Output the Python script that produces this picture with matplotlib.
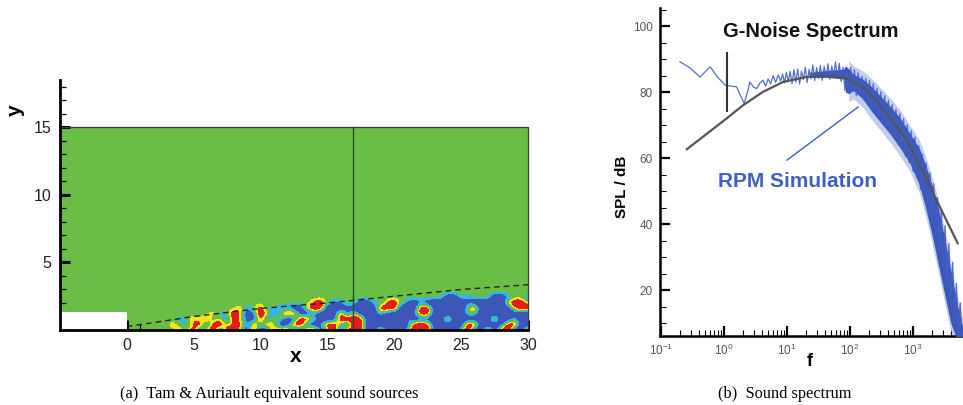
import numpy as np
import matplotlib.pyplot as plt
from matplotlib.patches import Rectangle
from matplotlib.colors import ListedColormap, BoundaryNorm
from matplotlib.ticker import MultipleLocator, LogLocator, NullFormatter

plt.rcParams['font.family'] = ['Liberation Sans', 'DejaVu Sans']

# ---------------- panel (a): equivalent sound sources ----------------
x_ticks = [0, 5, 10, 15, 20, 25, 30]
y_ticks = [5, 10, 15]
domain_x = [-5, 30]
domain_y = [0, 15]
nozzle_x = [-5, 0]
nozzle_h = 1.3
probe_x = 16.9
shear_x = [0, 5, 10, 15, 17, 20, 25, 30]
shear_y = [0.25, 1.0, 1.6, 2.0, 2.2, 2.5, 3.0, 3.35]

# source field on a coarse grid (x = 2..30 step 0.5, y = 0..3.6 step 0.4)
# '.' quiet, 'c' weak negative, 'b' strong negative, 'y' weak positive, 'r' strong positive
field_rows = [  # bottom row first
    "....y.rbyr" "brr.brbbry" "rbbrrb.rbr" "yrbbrbbb.r" "rrbbbb.rbb" "rbrrbbr",
    "...y.cyrbr" "r.yrbrcr.b" "brrbbcrr.b" "rrbbbbbbbr" "rrbbbbbrrb" "bbbrrbb",
    "....c.y.rc" "ybr.cbrby." "bbrr.bbbrr" "rrbbbbbb.b" "bbbbrbbbbb" "brbb.bb",
    ".........y" "c.rybcryb." "rrbbcbbbrb" "ybbb.bbbbc" "rrbbbbb..b" "bbbbbbb",
    ".........." "...yc.rc.c" "cbbyrrbbbc" "bbbbrrrbbb" "rrbbbbb.rb" "bbbbyrr",
    ".........." ".........." "....yr.cc." ".bb.cyr.cb" "cbbbbbbcbb" "bbbyrr.",
    ".........." ".........." ".........." ".........." "....bb.c.." ".bbc..c",
    ".........." ".........." ".........." ".........." ".........." ".......",
    ".........." ".........." ".........." ".........." ".........." ".......",
    ".........." ".........." ".........." ".........." ".........." ".......",
]
field_x0, field_dx = 2.0, 0.5
field_y0, field_dy = 0.0, 0.4
code = {'.': 0, 'c': -1, 'b': -2, 'y': 1, 'r': 2}

# ---------------- panel (b): sound spectrum ----------------
spl_ticks = [20, 40, 60, 80, 100]

gnoise_logf = [-0.59, 0.04, 0.30, 0.62, 0.94, 1.31, 1.73, 1.95, 2.27, 2.58, 2.90, 3.16, 3.35, 3.71]
gnoise_spl = [62.7, 72.0, 76.0, 80.1, 83.1, 84.6, 84.8, 84.2, 80.6, 73.6, 65.5, 55.8, 48.2, 34.2]

rpm_logf = [-0.70, -0.55, -0.38, -0.22, -0.10, 0.02, 0.20, 0.26, 0.32, 0.38, 0.41, 0.47,
            0.52, 0.57, 0.62, 0.66, 0.70, 0.74, 0.78, 0.82, 0.86,
            0.90, 0.93, 0.96, 0.99, 1.02, 1.05, 1.08, 1.11, 1.14, 1.17, 1.20, 1.23,
            1.26, 1.29, 1.32, 1.35, 1.38, 1.41, 1.44, 1.47, 1.50, 1.53, 1.56, 1.59,
            1.62, 1.65, 1.68, 1.71, 1.74, 1.77, 1.80, 1.83, 1.86, 1.89, 1.92, 1.95,
            1.98, 2.01, 2.04, 2.07, 2.10, 2.13, 2.16, 2.19, 2.22, 2.25, 2.28, 2.31,
            2.34, 2.37, 2.40, 2.43, 2.46, 2.49, 2.52, 2.55, 2.58, 2.61, 2.64, 2.67,
            2.70, 2.73, 2.76, 2.79, 2.82, 2.85, 2.88, 2.91, 2.94, 2.97, 3.00, 3.03,
            3.06, 3.09, 3.12, 3.15, 3.18, 3.21, 3.24, 3.27, 3.30, 3.33, 3.36, 3.39,
            3.42, 3.45, 3.48, 3.51, 3.54, 3.57, 3.60, 3.63, 3.66, 3.69, 3.72, 3.75, 3.78]
rpm_spl = [89.2, 87.5, 84.6, 87.7, 84.5, 82.1, 81.6, 79.0, 76.6, 80.5, 83.1, 81.5,
           81.1, 82.8, 83.6, 81.8, 84.0, 82.5, 85.0, 83.0, 85.2,
           83.4, 85.5, 82.8, 86.0, 83.2, 86.3, 82.6, 86.8, 83.0, 87.0, 82.5, 86.4,
           83.8, 87.5, 82.9, 86.9, 84.0, 88.2, 83.5, 87.4, 84.2, 88.0, 83.6, 87.8,
           84.5, 88.6, 83.9, 87.9, 84.8, 89.2, 84.1, 88.8, 83.2, 87.6, 80.5, 86.9,
           79.8, 87.5, 80.2, 86.8, 78.9, 85.9, 79.5, 84.8, 77.6, 84.2, 76.9, 83.5,
           74.8, 82.6, 73.5, 81.2, 72.9, 80.1, 71.0, 78.9, 69.8, 77.5, 67.5, 76.2,
           66.0, 74.8, 64.2, 73.5, 62.8, 71.9, 60.5, 70.1, 58.6, 68.3, 56.0, 66.4,
           54.2, 63.8, 50.5, 61.2, 47.8, 58.5, 44.0, 55.6, 40.2, 52.3, 36.5, 48.0,
           31.8, 44.2, 26.5, 39.6, 21.0, 34.2, 15.8, 28.5, 10.5, 22.0, 7.0, 16.2, 6.0]

band_logf = [1.35, 1.60, 1.90, 1.93, 1.98, 2.05, 2.20, 2.35, 2.50, 2.65, 2.80, 2.95,
             3.10, 3.20, 3.30, 3.40, 3.50, 3.60, 3.70, 3.80]
band_hi = [86.0, 86.5, 87.0, 88.0, 87.0, 85.5, 84.0, 81.5, 78.5, 75.5, 72.0, 67.5,
           63.0, 58.0, 52.0, 45.0, 36.0, 26.0, 16.0, 8.0]
band_lo = [84.5, 84.5, 84.0, 80.0, 79.5, 80.5, 78.0, 74.0, 70.5, 67.0, 63.0, 58.5,
           52.0, 45.0, 37.0, 28.0, 19.0, 10.0, 5.0, 5.0]

gn_marker_logf = 0.045
gn_marker_spl = [74.2, 91.8]
rpm_pointer_logf = [1.0, 2.13]
rpm_pointer_spl = [59.4, 75.5]

GREEN = '#6abd45'
BLUE_F = '#3c57b8'
CYAN = '#35b4e6'
YELLOW = '#f2e51c'
RED = '#e41d1d'
LINE_BLUE = '#3f5fc6'

fig = plt.figure(figsize=(9.63, 4.05), dpi=100)

# ---------- left panel ----------
ax1 = fig.add_axes([60 / 963, 1 - 330 / 405, 468 / 963, 250 / 405])
ax1.add_patch(Rectangle((domain_x[0], domain_y[0]), domain_x[1] - domain_x[0], domain_y[1] - domain_y[0],
                        facecolor=GREEN, edgecolor='none', zorder=1))
ax1.add_patch(Rectangle((nozzle_x[0], 0), nozzle_x[1] - nozzle_x[0], nozzle_h,
                        facecolor='white', edgecolor='none', zorder=2))

Z = np.array([[code[ch] for ch in row] for row in field_rows], dtype=float)
ext = [field_x0 - field_dx / 2, field_x0 + field_dx * (Z.shape[1] - 0.5),
       field_y0 - field_dy / 2, field_y0 + field_dy * (Z.shape[0] - 0.5)]
cmap = ListedColormap([BLUE_F, CYAN, GREEN, YELLOW, RED])
norm = BoundaryNorm([-10, -0.85, -0.3, 0.3, 0.8, 10], cmap.N)
ax1.imshow(Z, origin='lower', extent=ext, cmap=cmap, norm=norm, aspect='auto',
           interpolation='bicubic', interpolation_stage='data', zorder=3)

ax1.plot(shear_x, shear_y, color='#222222', lw=1.0, dashes=(4, 3), zorder=4)
ax1.plot([probe_x, probe_x], domain_y, color='#24502e', lw=1.0, zorder=4)
ax1.plot([domain_x[0], domain_x[1], domain_x[1]], [domain_y[1], domain_y[1], 0],
         color='#3a3a3a', lw=0.9, zorder=5, clip_on=False)

ax1.set_xlim(-5, 30)
ax1.set_ylim(0, 18.5)
ax1.set_xticks(x_ticks)
ax1.set_yticks(y_ticks)
ax1.xaxis.set_minor_locator(MultipleLocator(1))
ax1.yaxis.set_minor_locator(MultipleLocator(1))
for s in ['top', 'right']:
    ax1.spines[s].set_visible(False)
for s in ['left', 'bottom']:
    ax1.spines[s].set_linewidth(2.0)
    ax1.spines[s].set_zorder(6)
ax1.tick_params(which='major', direction='in', length=7, width=2.2, labelsize=11.5,
                labelcolor='#222222', pad=6)
ax1.tick_params(which='minor', direction='in', length=4, width=0.9)

fig.text(15 / 963, 1 - 110 / 405, 'y', rotation=90, fontsize=15, fontweight='bold',
         ha='center', va='center')
fig.text(296 / 963, 1 - 356 / 405, 'x', fontsize=15, fontweight='bold', ha='center', va='center')

# ---------- right panel ----------
ax2 = fig.add_axes([660 / 963, 1 - 336 / 405, 303 / 963, 328 / 405])
ax2.set_xscale('log')

bf = 10 ** np.array(band_logf)
hi = np.array(band_hi)
lo = np.array(band_lo)
outer = np.array(band_logf) >= 1.98
ax2.fill_between(bf[outer], lo[outer] - 2.5, hi[outer] + 2.5, color='#8fa2e0', alpha=0.55, lw=0, zorder=2)
ax2.fill_between(bf, lo, hi, color=BLUE_F, lw=0, zorder=3)
ax2.plot(10 ** np.array(rpm_logf), rpm_spl, color=LINE_BLUE, lw=0.9, alpha=0.9, zorder=4)
ax2.plot(10 ** np.array(gnoise_logf), gnoise_spl, color='#555555', lw=1.6, zorder=5)
ax2.plot([10 ** gn_marker_logf] * 2, gn_marker_spl, color='#333333', lw=1.5, zorder=5)
ax2.plot(10 ** np.array(rpm_pointer_logf), rpm_pointer_spl, color=LINE_BLUE, lw=1.0, zorder=5)

ax2.text(10 ** 1.38, 98.5, 'G-Noise Spectrum', fontsize=14.5, fontweight='bold',
         color='#111111', ha='center', va='center')
ax2.text(10 ** 1.17, 53, 'RPM Simulation', fontsize=15, fontweight='bold',
         color=LINE_BLUE, ha='center', va='center')

ax2.set_xlim(10 ** -1.016, 10 ** 3.794)
ax2.set_ylim(6.1, 105.5)
ax2.set_yticks(spl_ticks)
ax2.yaxis.set_minor_locator(MultipleLocator(5))
ax2.xaxis.set_major_locator(LogLocator(base=10, numticks=10))
ax2.xaxis.set_minor_locator(LogLocator(base=10, subs=np.arange(2, 10), numticks=10))
ax2.xaxis.set_minor_formatter(NullFormatter())
for s in ['top', 'right']:
    ax2.spines[s].set_visible(False)
for s in ['left', 'bottom']:
    ax2.spines[s].set_linewidth(1.8)
ax2.tick_params(which='major', direction='in', length=7, width=1.6, labelsize=8.5,
                labelcolor='#555555', pad=5)
ax2.tick_params(which='minor', direction='in', length=4, width=0.8)

fig.text(622 / 963, 1 - 187 / 405, 'SPL / dB', rotation=90, fontsize=11, fontweight='bold',
         ha='center', va='center')
fig.text(810 / 963, 1 - 361 / 405, 'f', fontsize=13, fontweight='bold', ha='center', va='center')

# ---------- captions ----------
fig.text(269 / 963, 1 - 394 / 405, '(a)  Tam & Auriault equivalent sound sources',
         family=['Liberation Serif', 'DejaVu Serif'], fontsize=11.8, ha='center', va='center')
fig.text(785 / 963, 1 - 394 / 405, '(b)  Sound spectrum',
         family=['Liberation Serif', 'DejaVu Serif'], fontsize=11.8, ha='center', va='center')

fig.savefig('out.png', dpi=100)
